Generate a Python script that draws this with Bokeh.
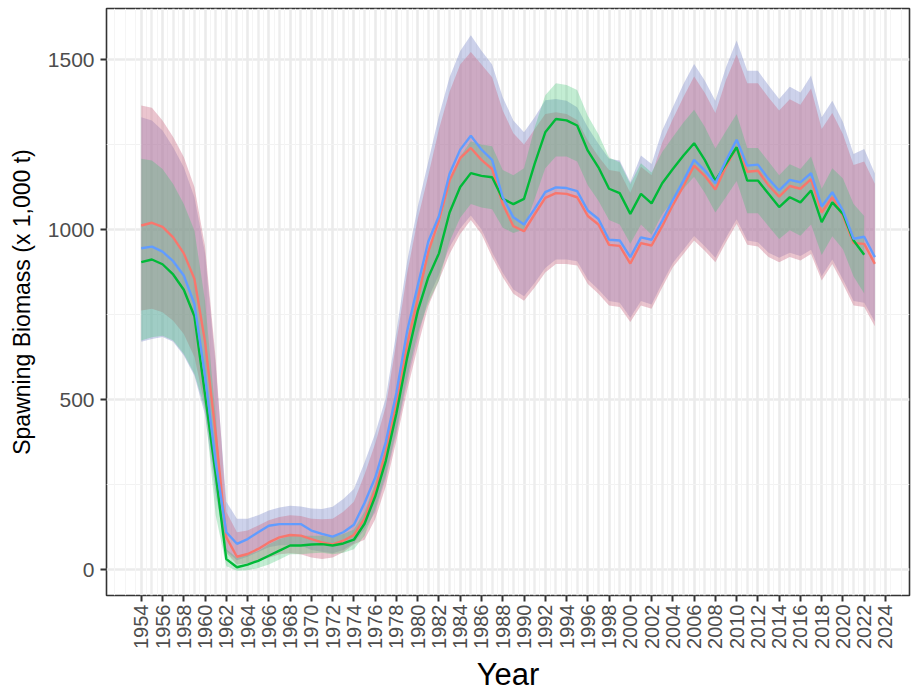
import numpy as np
from bokeh.plotting import figure
from bokeh.models import FixedTicker, Range1d, Grid
from bokeh.embed import file_html
from bokeh.resources import INLINE

years = list(range(1954, 2024))
green_years = list(range(1954, 2023))

blue_mean = [945, 950, 935, 907, 865, 781, 570, 315, 110, 76,
             90, 110, 129, 134, 134, 134, 115, 105, 97, 110,
             132, 196, 270, 375, 520, 700, 835, 965, 1040, 1164,
             1235, 1276, 1235, 1205, 1095, 1036, 1015, 1061, 1110, 1124,
             1122, 1113, 1056, 1031, 970, 968, 919, 977, 970, 1026,
             1087, 1144, 1205, 1174, 1136, 1203, 1264, 1188, 1191, 1149,
             1115, 1146, 1139, 1166, 1068, 1110, 1056, 973, 979, 919]
blue_hi = [1330, 1321, 1291, 1242, 1183, 1095, 930, 600, 200, 150,
           150, 160, 174, 183, 188, 186, 180, 178, 185, 208,
           237, 315, 400, 505, 700, 905, 1066, 1200, 1335, 1448,
           1525, 1571, 1526, 1485, 1389, 1321, 1286, 1330, 1380, 1384,
           1379, 1360, 1301, 1252, 1208, 1203, 1139, 1218, 1193, 1291,
           1360, 1428, 1487, 1438, 1379, 1477, 1556, 1467, 1467, 1424,
           1384, 1420, 1403, 1453, 1330, 1379, 1316, 1222, 1237, 1165]
blue_lo = [670, 678, 684, 670, 630, 570, 455, 220, 55, 28,
           38, 52, 66, 72, 72, 72, 58, 53, 48, 58,
           78, 118, 168, 268, 398, 548, 678, 798, 868, 948,
           1003, 1041, 1000, 933, 873, 824, 804, 843, 887, 912,
           912, 907, 853, 824, 790, 785, 741, 790, 780, 843,
           902, 941, 981, 951, 917, 976, 1030, 968, 963, 932,
           917, 932, 922, 941, 863, 912, 853, 790, 785, 729]

red_mean = [1012, 1020, 1008, 977, 930, 855, 670, 400, 95, 38,
            46, 61, 80, 95, 102, 100, 90, 80, 74, 85,
            102, 150, 235, 345, 490, 660, 795, 935, 1026, 1144,
            1210, 1240, 1205, 1178, 1075, 1010, 995, 1045, 1093, 1107,
            1105, 1095, 1040, 1015, 955, 952, 900, 960, 953, 1010,
            1072, 1128, 1188, 1158, 1118, 1185, 1242, 1170, 1173, 1130,
            1097, 1128, 1120, 1148, 1050, 1095, 1040, 960, 958, 899]
red_hi = [1365, 1358, 1321, 1272, 1213, 1125, 950, 620, 170, 110,
          115, 130, 145, 155, 160, 158, 150, 148, 150, 170,
          200, 280, 370, 480, 670, 870, 1030, 1160, 1295, 1405,
          1485, 1522, 1485, 1448, 1350, 1283, 1250, 1295, 1340, 1345,
          1340, 1322, 1262, 1215, 1175, 1170, 1108, 1185, 1160, 1255,
          1325, 1390, 1450, 1402, 1343, 1440, 1515, 1430, 1430, 1388,
          1350, 1383, 1367, 1415, 1296, 1343, 1280, 1190, 1200, 1135]
red_lo = [762, 767, 757, 732, 693, 625, 480, 250, 50, 15,
          18, 25, 35, 45, 48, 45, 36, 31, 36, 51,
          75, 88, 148, 245, 380, 526, 654, 775, 850, 928,
          987, 1028, 987, 919, 860, 811, 791, 830, 874, 899,
          899, 894, 840, 811, 777, 772, 728, 777, 767, 830,
          889, 928, 968, 938, 904, 963, 1017, 955, 950, 919,
          904, 919, 909, 928, 850, 899, 840, 777, 772, 716]

green_mean = [904, 912, 898, 868, 823, 745, 515, 280, 31, 7,
              15, 26, 41, 56, 71, 71, 74, 75, 71, 77,
              88, 135, 215, 320, 460, 622, 760, 860, 930, 1050,
              1125, 1166, 1158, 1154, 1090, 1075, 1090, 1193, 1286, 1325,
              1321, 1306, 1232, 1183, 1120, 1107, 1046, 1105, 1077, 1136,
              1178, 1218, 1254, 1205, 1144, 1193, 1242, 1144, 1144, 1105,
              1066, 1095, 1080, 1115, 1022, 1080, 1046, 968, 926]
green_hi = [1208, 1203, 1178, 1134, 1075, 997, 790, 450, 60, 35,
            45, 55, 75, 90, 100, 100, 100, 100, 97, 105,
            118, 170, 255, 365, 510, 680, 825, 935, 1010, 1135,
            1215, 1260, 1250, 1245, 1175, 1160, 1180, 1300, 1395, 1430,
            1425, 1410, 1335, 1280, 1212, 1198, 1134, 1195, 1168, 1228,
            1272, 1315, 1352, 1302, 1238, 1290, 1340, 1240, 1240, 1200,
            1160, 1192, 1178, 1215, 1120, 1180, 1150, 1075, 1040]
green_lo = [674, 683, 688, 674, 634, 575, 470, 160, 10, -3,
            -2, 5, 15, 30, 45, 45, 48, 50, 45, 50,
            60, 100, 178, 278, 410, 565, 695, 785, 850, 965,
            1035, 1075, 1065, 1060, 1005, 990, 1000, 1090, 1180, 1215,
            1215, 1200, 1130, 1085, 1028, 1015, 958, 1015, 985, 1045,
            1085, 1120, 1155, 1108, 1050, 1096, 1143, 1048, 1048, 1010,
            972, 998, 982, 1015, 925, 980, 942, 862, 812]

x_tick_years = list(range(1954, 2025, 2))
y_ticks = [0, 500, 1000, 1500]
y_minor = [250, 750, 1250]

RED = "#F8766D"
GREEN = "#00BA38"
BLUE = "#619CFF"
RED_FILL = "#CD6E87"
GREEN_FILL = "#39C56E"
BLUE_FILL = "#828FCD"

p = figure(frame_width=803, frame_height=587, output_backend="svg", toolbar_location=None,
           x_range=Range1d(1950.73, 2026.26), y_range=Range1d(-76, 1650),
           min_border_left=106, min_border_right=5, min_border_top=8, min_border_bottom=99,
           background_fill_color="white", border_fill_color="white")

# grids
p.xaxis.ticker = FixedTicker(ticks=x_tick_years)
p.yaxis.ticker = FixedTicker(ticks=y_ticks, minor_ticks=y_minor)
p.xgrid.grid_line_color = "#EBEBEB"
p.xgrid.grid_line_width = 2.6
p.ygrid.grid_line_color = "#EBEBEB"
p.ygrid.grid_line_width = 2.4
p.ygrid.minor_grid_line_color = "#F2F2F2"
p.ygrid.minor_grid_line_width = 1.2

odd_years = [y + 1 for y in x_tick_years[:-1]]
half_years = [y + 0.5 for y in range(1950, 2027)]
p.add_layout(Grid(dimension=0, ticker=FixedTicker(ticks=odd_years),
                  grid_line_color="#EDEDED", grid_line_width=2.4))
p.add_layout(Grid(dimension=0, ticker=FixedTicker(ticks=half_years),
                  grid_line_color="#F5F5F5", grid_line_width=1.0))

# ribbons
p.varea(x=years, y1=blue_lo, y2=blue_hi, fill_color=BLUE_FILL, fill_alpha=0.4)
p.varea(x=years, y1=red_lo, y2=red_hi, fill_color=RED_FILL, fill_alpha=0.4)
p.varea(x=green_years, y1=green_lo, y2=green_hi, fill_color=GREEN_FILL, fill_alpha=0.3)

# lines
p.line(years, red_mean, line_color=RED, line_width=2.4)
p.line(green_years, green_mean, line_color=GREEN, line_width=2.4)
p.line(years, blue_mean, line_color=BLUE, line_width=2.4)

# axes
p.outline_line_color = "#333333"
p.outline_line_width = 1.6
for ax in (p.xaxis[0], p.yaxis[0]):
    ax.axis_line_color = None
    ax.major_tick_line_color = "#333333"
    ax.major_tick_line_width = 2
    ax.major_tick_out = 6
    ax.major_tick_in = 0
    ax.minor_tick_line_color = None
    ax.major_label_text_font = "Liberation Sans"
    ax.major_label_text_color = "#4D4D4D"
    ax.axis_label_text_font = "Liberation Sans"
    ax.axis_label_text_font_style = "normal"
    ax.axis_label_text_color = "black"

p.xaxis.major_label_orientation = np.pi / 2
p.xaxis.major_label_text_font_size = "20px"
p.xaxis.major_label_standoff = 3
p.xaxis.axis_label = "Year"
p.xaxis.axis_label_text_font_size = "31px"
p.xaxis.axis_label_standoff = 5

p.yaxis.axis_label = "Spawning Biomass (x 1,000 t)"
p.yaxis.major_label_text_font_size = "21px"
p.yaxis.axis_label_text_font_size = "23px"
p.yaxis.major_label_standoff = 6
p.yaxis.axis_label_standoff = 10

open("out.html", "w").write(file_html(p, INLINE))
